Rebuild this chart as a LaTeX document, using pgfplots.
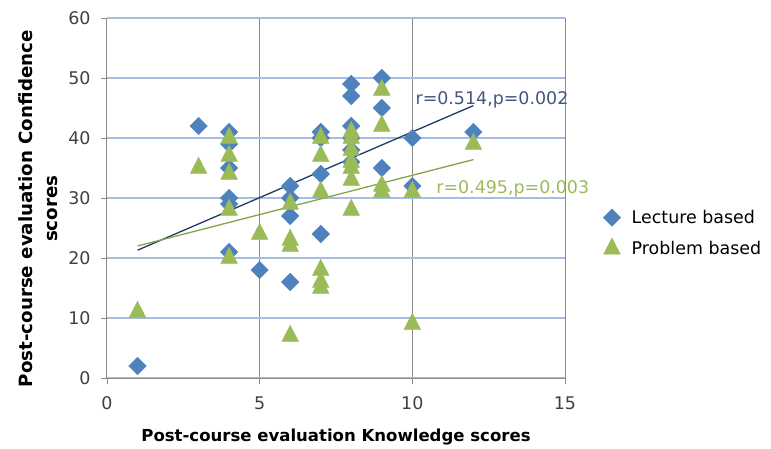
\documentclass[border=0pt]{standalone}
\usepackage{pgfplots}
\pgfplotsset{compat=1.18}
\usepackage{fontspec}
\setmainfont{DejaVu Sans}
\definecolor{lecblue}{HTML}{4F81BD}
\definecolor{probgreen}{HTML}{9BBB59}
\definecolor{navyline}{HTML}{1F3A64}
\definecolor{oliveline}{HTML}{86A24A}
\definecolor{vgrid}{HTML}{8A8A8A}
\definecolor{hgrid}{HTML}{A8BDE2}
\definecolor{ticktext}{HTML}{404040}
\begin{document}
\begin{tikzpicture}
\useasboundingbox (-107bp,-71bp) rectangle (664bp,378bp);
\begin{axis}[
  at={(0,0)}, anchor=south west,
  width=458bp, height=360bp, scale only axis,
  xmin=0, xmax=15, ymin=0, ymax=60,
  xtick={0,5,10,15}, ytick={0,10,...,60},
  axis lines*=left,
  axis line style={vgrid, line width=1bp},
  tick align=outside, major tick length=6bp,
  xtick style={color=vgrid, line width=0.8bp},
  ytick style={color=vgrid, line width=0.8bp},
  xmajorgrids, ymajorgrids,
  x grid style={color=vgrid, line width=1bp},
  y grid style={color=hgrid, line width=1.1bp},
  /pgf/number format/assume math mode=true,
  tick label style={font=\fontsize{17.5}{20}\selectfont, text=ticktext},
  xticklabel style={yshift=-9bp},
  yticklabel style={xshift=-7bp},
  xlabel={Post-course evaluation Knowledge scores},
  xlabel style={font=\bfseries\fontsize{16.6}{20}\selectfont, at={(axis description cs:0.5,-0.164)}, anchor=center},
  ylabel={Post-course evaluation Confidence\\scores},
  ylabel style={font=\bfseries\fontsize{18.3}{25}\selectfont, align=center, at={(axis description cs:-0.150,0.47)}, anchor=center},
  legend style={draw=none, fill=none, at={(axis description cs:1.083,0.472)}, anchor=north west,
    font=\fontsize{17.5}{20}\selectfont, row sep=11bp, inner sep=0pt,
    /tikz/every odd column/.append style={column sep=9bp}},
  legend cell align=left,
  clip=false,
]
\addplot[only marks, mark=square*, mark size=6.2bp, mark options={rotate=45, fill=lecblue, draw=lecblue},
  legend image code/.code={\draw[mark repeat=2,mark phase=2] plot coordinates {(0bp,0bp)(8bp,0bp)(16bp,0bp)};}]
coordinates {
 (1,2) (3,42)
 (4,41) (4,39) (4,35) (4,30) (4,29) (4,21)
 (5,18)
 (6,32) (6,30) (6,27) (6,16)
 (7,41) (7,40) (7,34) (7,24)
 (8,49) (8,47) (8,42) (8,40) (8,38) (8,36)
 (9,50) (9,45) (9,35)
 (10,40) (10,32)
 (12,41)
};
\addlegendentry{Lecture based}
\addplot[only marks, mark=triangle*, mark size=9.6bp, mark options={yscale=1.12, fill=probgreen, draw=probgreen},
  legend image code/.code={\draw[mark repeat=2,mark phase=2] plot coordinates {(0bp,0bp)(8bp,0bp)(16bp,0bp)};}]
coordinates {
 (1,11) (3,35)
 (4,40) (4,37) (4,34) (4,28) (4,20)
 (5,24)
 (6,29) (6,23) (6,22) (6,7)
 (7,40) (7,37) (7,31) (7,18) (7,16) (7,15)
 (8,41) (8,40) (8,38) (8,36) (8,35) (8,33) (8,28)
 (9,48) (9,42) (9,32) (9,31)
 (10,31) (10,9)
 (12,39)
};
\addlegendentry{Problem based}
\addplot[forget plot, navyline, line width=1.3bp] coordinates {(1,21.3) (12,45.4)};
\addplot[forget plot, oliveline, line width=1.3bp] coordinates {(1,22.0) (12,36.4)};
\node[anchor=west, inner sep=0pt, text=navyline!85, font=\fontsize{17.5}{20}\selectfont] at (axis cs:10.1,46.3) {r=0.514,p=0.002};
\node[anchor=west, inner sep=0pt, text=probgreen, font=\fontsize{17.5}{20}\selectfont] at (axis cs:10.78,31.6) {r=0.495,p=0.003};
\end{axis}
\end{tikzpicture}
\end{document}
